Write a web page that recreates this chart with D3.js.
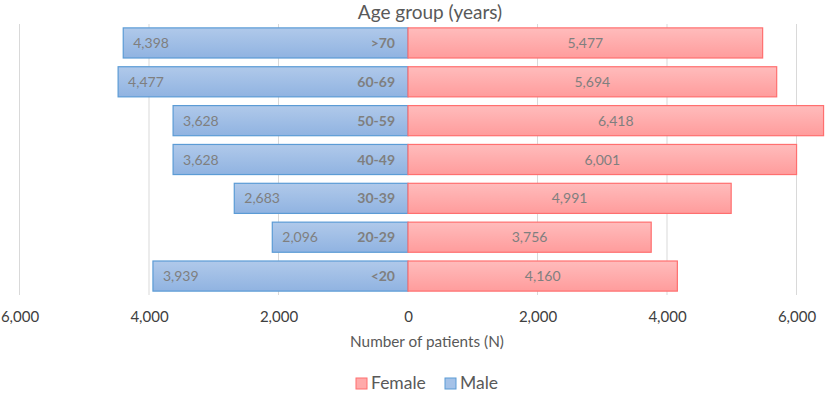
<!DOCTYPE html>
<html lang="en">
<head>
<meta charset="UTF-8">
<title>Age pyramid</title>
<script src="https://d3js.org/d3.v7.min.js"></script>
<style>
  body { margin: 0; background: #fff; }
  text { font-family: Lato, "Open Sans", sans-serif; }
</style>
</head>
<body>
<div id="chart"></div>
<script>
const width = 829;
const height = 398;

// data, top to bottom
const ageGroups = [">70", "60-69", "50-59", "40-49", "30-39", "20-29", "<20"];
const maleValues = [4398, 4477, 3628, 3628, 2683, 2096, 3939];
const femaleValues = [5477, 5694, 6418, 6001, 4991, 3756, 4160];
const tickValues = [-6000, -4000, -2000, 0, 2000, 4000, 6000];

const fmt = d3.format(",");

const svg = d3.select("#chart").append("svg")
    .attr("width", width)
    .attr("height", height)
    .style("display", "block");

const defs = svg.append("defs");
function grad(id, c1, c2) {
    const g = defs.append("linearGradient").attr("id", id)
        .attr("x1", 0).attr("y1", 0).attr("x2", 0).attr("y2", 1);
    g.append("stop").attr("offset", "0%").attr("stop-color", c1);
    g.append("stop").attr("offset", "100%").attr("stop-color", c2);
}
grad("maleGrad", "#b0c9ea", "#90b3e1");
grad("femaleGrad", "#ffbcbc", "#ff9c9c");

const x = d3.scaleLinear().domain([-6000, 6000]).range([19.5, 796.5]);
const y = d3.scaleBand().domain(ageGroups).range([24, 295]).paddingInner(0.225).paddingOuter(0.1);

// gridlines
svg.append("g").selectAll("line")
    .data(tickValues.filter(d => d !== 0))
    .join("line")
    .attr("x1", d => x(d)).attr("x2", d => x(d))
    .attr("y1", 24).attr("y2", 295)
    .attr("stroke", "#d9d9d9").attr("stroke-width", 1);

// male bars
svg.append("g").selectAll("rect")
    .data(ageGroups)
    .join("rect")
    .attr("x", (d, i) => x(-maleValues[i]))
    .attr("y", d => y(d))
    .attr("width", (d, i) => x(0) - x(-maleValues[i]))
    .attr("height", y.bandwidth())
    .attr("fill", "url(#maleGrad)")
    .attr("stroke", "#5b9bd5").attr("stroke-width", 1.2);

// female bars
svg.append("g").selectAll("rect")
    .data(ageGroups)
    .join("rect")
    .attr("x", x(0))
    .attr("y", d => y(d))
    .attr("width", (d, i) => x(femaleValues[i]) - x(0))
    .attr("height", y.bandwidth())
    .attr("fill", "url(#femaleGrad)")
    .attr("stroke", "#ff6f6f").attr("stroke-width", 1.2);

// male value labels
svg.append("g").selectAll("text")
    .data(ageGroups)
    .join("text")
    .attr("x", (d, i) => x(-maleValues[i]) + 10)
    .attr("y", d => y(d) + y.bandwidth() / 2 + 5)
    .attr("font-size", 14)
    .attr("fill", "#7f7f7f")
    .text((d, i) => fmt(maleValues[i]));

// age group labels
svg.append("g").selectAll("text")
    .data(ageGroups)
    .join("text")
    .attr("x", x(0) - 13)
    .attr("y", d => y(d) + y.bandwidth() / 2 + 5)
    .attr("text-anchor", "end")
    .attr("font-size", 14)
    .attr("font-weight", "bold")
    .attr("fill", "#7f7f7f")
    .text(d => d);

// female value labels
svg.append("g").selectAll("text")
    .data(ageGroups)
    .join("text")
    .attr("x", (d, i) => (x(0) + x(femaleValues[i])) / 2)
    .attr("y", d => y(d) + y.bandwidth() / 2 + 5)
    .attr("text-anchor", "middle")
    .attr("font-size", 14)
    .attr("fill", "#7f7f7f")
    .text((d, i) => fmt(femaleValues[i]));

// x axis labels
const axis = svg.append("g")
    .attr("transform", "translate(0,308)")
    .call(d3.axisBottom(x).tickValues(tickValues).tickSize(0).tickFormat(d => fmt(Math.abs(d))));
axis.select(".domain").remove();
axis.selectAll("text")
    .attr("font-family", "Lato, 'Open Sans', sans-serif")
    .attr("font-size", 15)
    .attr("fill", "#404040");

// title
svg.append("text")
    .attr("x", x(0) + 22)
    .attr("y", 19)
    .attr("text-anchor", "middle")
    .attr("font-size", 19)
    .attr("fill", "#595959")
    .text("Age group (years)");

// axis title
svg.append("text")
    .attr("x", x(0) + 19)
    .attr("y", 347)
    .attr("text-anchor", "middle")
    .attr("font-size", 15.3)
    .attr("fill", "#595959")
    .text("Number of patients (N)");

// legend
const legendItems = [
    { name: "Female", fill: "#ffaaaa", stroke: "#ff6f6f", x: 356 },
    { name: "Male", fill: "#a4c2e8", stroke: "#5b9bd5", x: 445 }
];
const legend = svg.append("g");
legend.selectAll("rect")
    .data(legendItems)
    .join("rect")
    .attr("x", d => d.x).attr("y", 378)
    .attr("width", 11).attr("height", 11)
    .attr("fill", d => d.fill)
    .attr("stroke", d => d.stroke);
legend.selectAll("text")
    .data(legendItems)
    .join("text")
    .attr("x", d => d.x + 15)
    .attr("y", 389)
    .attr("font-size", 17.5)
    .attr("fill", "#595959")
    .text(d => d.name);
</script>
</body>
</html>
